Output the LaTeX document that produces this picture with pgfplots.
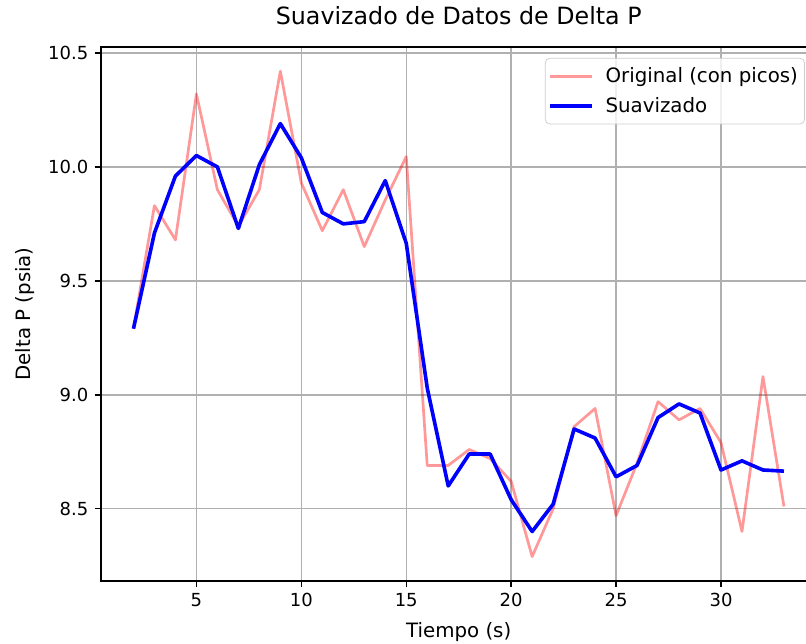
\documentclass[border=0pt]{standalone}
\usepackage{fontspec}
\setmainfont{DejaVu Sans}
\usepackage{pgfplots}
\pgfplotsset{compat=1.18}

\definecolor{gridgray}{RGB}{176,176,176}
\definecolor{legframe}{RGB}{204,204,204}

\pgfplotstableread{
t     orig    smooth
2     9.29    9.29
3     9.83    9.71
4     9.68    9.96
5     10.32   10.05
6     9.90    10.00
7     9.74    9.73
8     9.90    10.01
9     10.42   10.19
10    9.93    10.04
11    9.72    9.80
12    9.90    9.75
13    9.65    9.76
14    9.855   9.94
15    10.045  9.665
16    8.69    9.03
17    8.69    8.60
18    8.76    8.74
19    8.72    8.74
20    8.62    8.54
21    8.29    8.40
22    8.50    8.52
23    8.86    8.85
24    8.94    8.81
25    8.47    8.64
26    8.70    8.69
27    8.97    8.90
28    8.89    8.96
29    8.94    8.92
30    8.79    8.67
31    8.40    8.71
32    9.08    8.67
33    8.51    8.665
}\datatable

\begin{document}
\begin{tikzpicture}
% the reference is cut off just before the right spine
\useasboundingbox (-55.9bp,-34.9bp) rectangle (390.5bp,321.7bp);
\clip (-55.9bp,-34.9bp) rectangle (390.5bp,321.7bp);
\begin{axis}[
   scale only axis,
   width=396.3bp, height=295.7bp,
   xmin=0.45, xmax=34.55,
   ymin=8.1835, ymax=10.5265,
   xtick={5,10,15,20,25,30},
   ytick={8.5,9.0,9.5,10.0,10.5},
   yticklabel style={/pgf/number format/fixed,/pgf/number format/fixed zerofill,/pgf/number format/precision=1},
   /pgf/number format/assume math mode=true,
   tick pos=left,
   tick align=outside,
   major tick length=3.5bp,
   tick style={black, line width=0.8bp},
   axis line style={black, line width=0.8bp},
   grid=major,
   major grid style={gridgray, line width=0.8bp},
   tick label style={font=\fontsize{10}{12}\selectfont},
   label style={font=\fontsize{11}{13}\selectfont},
   title={Suavizado de Datos de Delta P},
   title style={font=\fontsize{13.2}{15}\selectfont, at={(axis description cs:0.5,1.0225)}, anchor=base},
   xlabel={Tiempo (s)},
   xlabel style={at={(axis description cs:0.5,-0.1069)}, anchor=base},
   ylabel={Delta P (psia)},
   ylabel style={at={(axis description cs:-0.0984,0.5)}, anchor=base},
   legend style={at={(1,1)}, anchor=north east, xshift=-6.4bp, yshift=-6.1bp,
      draw=legframe, rounded corners=2.5bp, fill=white, fill opacity=0.8, text opacity=1,
      font=\fontsize{11}{13}\selectfont, inner xsep=1.7bp, inner ysep=3bp,
      row sep=2.7bp, column sep=4.7bp, nodes={inner sep=2bp}},
   legend cell align=left,
   legend image code/.code={\draw[#1] (0bp,0bp) -- (23bp,0bp);},
]
\addplot[red, opacity=0.4, line width=1.5bp, line join=round] table[x=t, y=orig] {\datatable};
\addlegendentry{Original (con picos)}
\addplot[blue, line width=2bp, line join=round] table[x=t, y=smooth] {\datatable};
\addlegendentry{Suavizado}
\end{axis}
\end{tikzpicture}
\end{document}
